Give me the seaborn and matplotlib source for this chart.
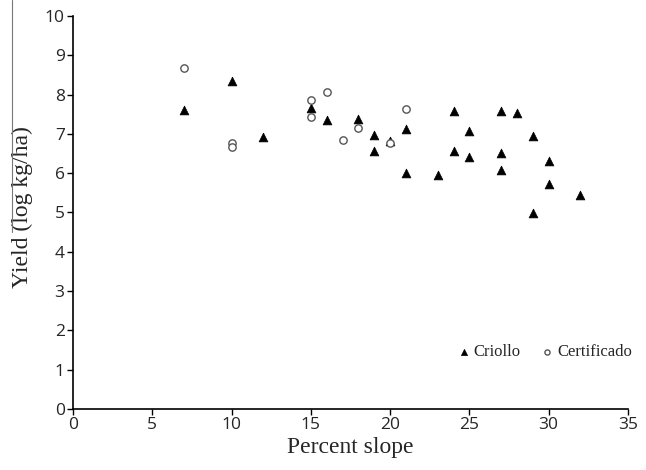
import pandas as pd
import numpy as np
import matplotlib.pyplot as plt
import seaborn as sns
from matplotlib.lines import Line2D

# Criollo points (triangles)
criollo_slope = [7, 10, 12, 15, 16, 18, 19, 19, 20, 21, 21, 23, 24, 24, 25, 25,
                 27, 27, 27, 28, 29, 29, 30, 30, 32]
criollo_yield = [7.61, 8.34, 6.91, 7.65, 7.35, 7.37, 6.97, 6.56, 6.82, 7.12, 6.01, 5.95,
                 7.57, 6.56, 7.07, 6.42, 7.58, 6.52, 6.08, 7.54, 6.95, 4.98, 6.31, 5.73, 5.45]

# Certificado points (open circles)
cert_slope = [7, 10, 10, 15, 15, 16, 17, 18, 20, 21]
cert_yield = [8.68, 6.76, 6.67, 7.87, 7.44, 8.06, 6.85, 7.14, 6.76, 7.62]

df = pd.concat([
    pd.DataFrame({'slope': criollo_slope, 'yield': criollo_yield, 'type': 'Criollo'}),
    pd.DataFrame({'slope': cert_slope, 'yield': cert_yield, 'type': 'Certificado'}),
])

sns.set_style('white')
plt.rcParams['font.family'] = ['Open Sans', 'DejaVu Sans']

fig = plt.figure(figsize=(6.46, 4.70), dpi=100)
ax = fig.add_axes([0.113, 0.130, 0.859, 0.836])

sns.scatterplot(data=df[df['type'] == 'Criollo'], x='slope', y='yield', ax=ax,
                marker='^', color='black', edgecolor='black', s=40, label='Criollo')
sns.scatterplot(data=df[df['type'] == 'Certificado'], x='slope', y='yield', ax=ax,
                marker='o', facecolor='white', edgecolor='#555555', linewidth=1.0,
                s=28, label='Certificado')

ax.set_xlim(0, 35)
ax.set_ylim(0, 10)
ax.set_xticks(np.arange(0, 36, 5))
ax.set_yticks(np.arange(0, 11, 1))
ax.tick_params(axis='both', direction='out', length=4, width=1, color='black',
               labelsize=12.5, bottom=True, left=True, pad=2)

for side in ['top', 'right']:
    ax.spines[side].set_visible(False)
for side in ['left', 'bottom']:
    ax.spines[side].set_color('black')
    ax.spines[side].set_linewidth(1.2)

ax.set_xlabel('Percent slope', family='Liberation Serif', fontsize=17, labelpad=3)
ax.set_ylabel('Yield (log kg/ha)', family='Liberation Serif', fontsize=17)
ax.yaxis.set_label_coords(-0.072, 0.513)

leg = ax.legend(loc='center right', bbox_to_anchor=(1.035, 0.145), ncol=2, frameon=False,
                prop={'family': 'Liberation Serif', 'size': 12},
                handletextpad=0.0, columnspacing=1.0, markerscale=0.7,
                handlelength=1.2)

# thin scan line at the left edge of the page
fig.add_artist(Line2D([0.0186, 0.0186], [1.0, 0.506], color='#777777', linewidth=0.8))

fig.savefig('out.png', dpi=100)
